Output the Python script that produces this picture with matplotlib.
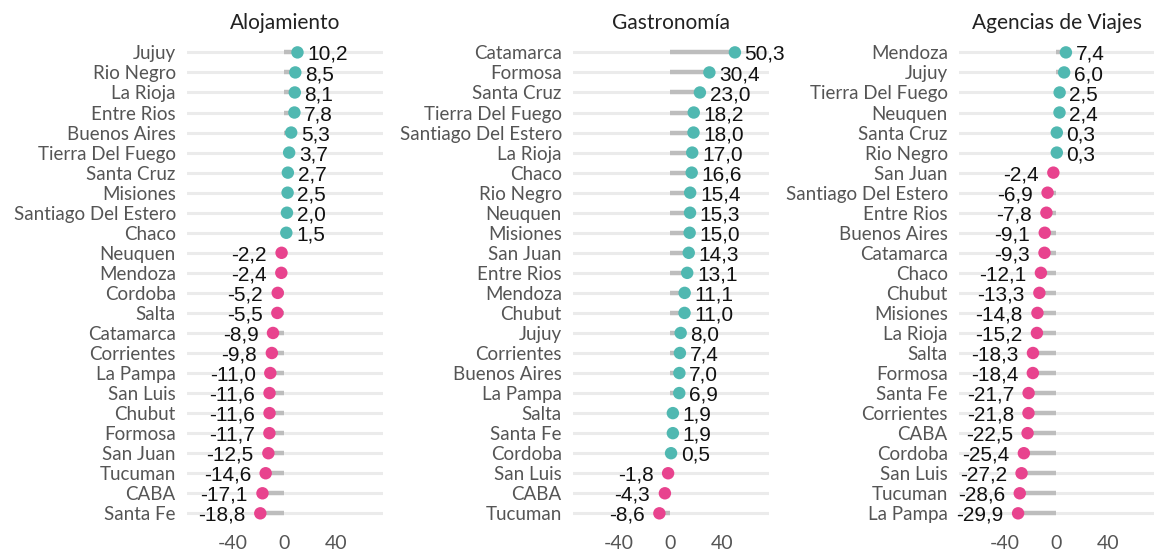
import matplotlib
matplotlib.use('Agg')
import matplotlib.pyplot as plt
import numpy as np

# data, top to bottom as shown in each panel
aloj_names = ['Jujuy', 'Rio Negro', 'La Rioja', 'Entre Rios', 'Buenos Aires', 'Tierra Del Fuego',
              'Santa Cruz', 'Misiones', 'Santiago Del Estero', 'Chaco', 'Neuquen', 'Mendoza',
              'Cordoba', 'Salta', 'Catamarca', 'Corrientes', 'La Pampa', 'San Luis', 'Chubut',
              'Formosa', 'San Juan', 'Tucuman', 'CABA', 'Santa Fe']
aloj_vals = [10.2, 8.5, 8.1, 7.8, 5.3, 3.7, 2.7, 2.5, 2.0, 1.5, -2.2, -2.4,
             -5.2, -5.5, -8.9, -9.8, -11.0, -11.6, -11.6, -11.7, -12.5, -14.6, -17.1, -18.8]

gastro_names = ['Catamarca', 'Formosa', 'Santa Cruz', 'Tierra Del Fuego', 'Santiago Del Estero',
                'La Rioja', 'Chaco', 'Rio Negro', 'Neuquen', 'Misiones', 'San Juan', 'Entre Rios',
                'Mendoza', 'Chubut', 'Jujuy', 'Corrientes', 'Buenos Aires', 'La Pampa', 'Salta',
                'Santa Fe', 'Cordoba', 'San Luis', 'CABA', 'Tucuman']
gastro_vals = [50.3, 30.4, 23.0, 18.2, 18.0, 17.0, 16.6, 15.4, 15.3, 15.0, 14.3, 13.1,
               11.1, 11.0, 8.0, 7.4, 7.0, 6.9, 1.9, 1.9, 0.5, -1.8, -4.3, -8.6]

agencias_names = ['Mendoza', 'Jujuy', 'Tierra Del Fuego', 'Neuquen', 'Santa Cruz', 'Rio Negro',
                  'San Juan', 'Santiago Del Estero', 'Entre Rios', 'Buenos Aires', 'Catamarca',
                  'Chaco', 'Chubut', 'Misiones', 'La Rioja', 'Salta', 'Formosa', 'Santa Fe',
                  'Corrientes', 'CABA', 'Cordoba', 'San Luis', 'Tucuman', 'La Pampa']
agencias_vals = [7.4, 6.0, 2.5, 2.4, 0.3, 0.3, -2.4, -6.9, -7.8, -9.1, -9.3, -12.1, -13.3,
                 -14.8, -15.2, -18.3, -18.4, -21.7, -21.8, -22.5, -25.4, -27.2, -28.6, -29.9]

titles = ['Alojamiento', 'Gastronomía', 'Agencias de Viajes']
x_ticks = [-40, 0, 40]

TEAL = '#50b8b1'
PINK = '#e8438e'
BAR = '#bdbdbd'
GRID = '#ebebeb'
LABEL_FONT = ['Lato', 'DejaVu Sans']
VALUE_FONT = ['Liberation Sans', 'DejaVu Sans']


def fmt(v):
    ''' number with comma as decimal separator'''
    return '{:.1f}'.format(v).replace('.', ',')


def draw_panel(ax, names, vals, title):
    ''' draws one lollipop panel'''
    y = np.arange(len(names))

    # horizontal guide lines across the panel
    for yi in y:
        ax.axhline(yi, color=GRID, linewidth=2.2, zorder=0)

    # grey stem from zero to the value, then the dot
    ax.hlines(y, 0, vals, color=BAR, linewidth=3.2, zorder=1)
    colors = [TEAL if v > 0 else PINK for v in vals]
    ax.scatter(vals, y, s=80, color=colors, zorder=3, linewidths=0)

    for yi, v in zip(y, vals):
        if v > 0:
            ax.annotate(fmt(v), (v, yi), xytext=(7, -1.5), textcoords='offset points',
                        ha='left', va='center', fontsize=15, family=VALUE_FONT,
                        color='#111111', annotation_clip=False)
        else:
            ax.annotate(fmt(v), (v, yi), xytext=(-10.5, -1.5), textcoords='offset points',
                        ha='right', va='center', fontsize=15, family=VALUE_FONT,
                        color='#111111', annotation_clip=False)

    ax.set_xlim(-76, 77)
    ax.set_ylim(len(names) - 0.4, -0.6)
    ax.set_xticks(x_ticks)
    ax.set_xticklabels([str(t) for t in x_ticks], fontsize=14, color='#555555', family=LABEL_FONT)
    ax.set_yticks(y)
    ax.set_yticklabels(names, fontsize=13.5, color='#555555', family=LABEL_FONT)
    ax.tick_params(length=0, pad=8)
    ax.tick_params(axis='x', pad=7)
    for s in ax.spines.values():
        s.set_visible(False)
    ax.set_title(title, fontsize=15, color='#222222', family=LABEL_FONT, pad=8)


def main():
    fig = plt.figure(figsize=(11.54, 5.53), dpi=100)
    lefts = [0.162, 0.4965, 0.831]
    data = [(aloj_names, aloj_vals), (gastro_names, gastro_vals), (agencias_names, agencias_vals)]
    for left, (names, vals), title in zip(lefts, data, titles):
        ax = fig.add_axes([left, 0.05, 0.17, 0.877])
        draw_panel(ax, names, vals, title)
    fig.savefig('out.png', dpi=100, facecolor='white')


if __name__ == '__main__':
    main()
